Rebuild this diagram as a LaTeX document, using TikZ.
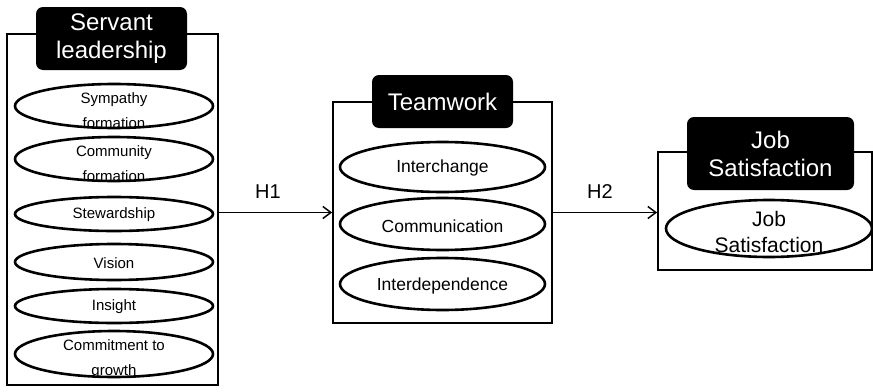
\documentclass[tikz,border=0pt]{standalone}
\usepackage{fontspec}
\setmainfont{Liberation Sans}
\usetikzlibrary{shapes.geometric,arrows.meta}
\begin{document}
\begin{tikzpicture}[x=1pt,y=-1pt,
  frame/.style={draw, line width=1.8pt, inner sep=0pt},
  titlebox/.style={fill=black, rounded corners=7pt, text=white, align=center,
    inner sep=0pt, font=\fontsize{24}{28}\selectfont},
  oval/.style={draw, ellipse, line width=2.6pt, inner sep=0pt},
  otext/.style={align=center, inner sep=0pt, font=\fontsize{15}{25}\selectfont},
  mtext/.style={align=center, inner sep=0pt, font=\fontsize{17.5}{25}\selectfont},
  jtext/.style={align=center, inner sep=0pt, font=\fontsize{21}{26}\selectfont},
  hyp/.style={font=\fontsize{20}{24}\selectfont, inner sep=0pt},
  arrow/.style={line width=1.5pt, -{Straight Barb[length=8pt,width=12pt,line width=1.5pt]}}]
\useasboundingbox (0,0) rectangle (873,391);
\fill[white] (0,0) rectangle (873,391);

% Servant leadership group
\node[frame, minimum width=211pt, minimum height=351pt] (sl) at (112.5,209.5) {};
\node[titlebox, minimum width=151pt, minimum height=63pt] (slt) at (111.5,38.5) {Servant\\leadership};
\tikzset{lov/.style={oval, minimum width=198pt}}
\node[lov, minimum height=44pt] (s1) at (114,106) {};
\node[otext] (s1t) at (114,111) {Sympathy\\formation};
\node[lov, minimum height=44pt] (s2) at (114,159) {};
\node[otext] (s2t) at (114,164) {Community\\formation};
\node[lov, minimum height=34pt] (s3) at (114,214) {};
\node[otext] (s3t) at (114,215) {Stewardship};
\node[lov, minimum height=36pt] (s4) at (114,262) {};
\node[otext] (s4t) at (114,263) {Vision};
\node[lov, minimum height=34pt] (s5) at (114,306) {};
\node[otext] (s5t) at (114,307) {Insight};
\node[lov, minimum height=46pt] (s6) at (114,354) {};
\node[otext] (s6t) at (114,359) {Commitment to\\growth};

% Teamwork group
\node[frame, minimum width=219pt, minimum height=221pt] (tw) at (442.5,212.5) {};
\node[titlebox, minimum width=141pt, minimum height=53pt] (twt) at (442.5,101.5) {Teamwork};
\tikzset{mov/.style={oval, minimum width=205pt}}
\node[mov, minimum height=50pt] (t1) at (442.5,167) {};
\node[mtext] (t1t) at (442.5,168) {Interchange};
\node[mov, minimum height=52pt] (t2) at (442.5,224) {};
\node[mtext] (t2t) at (442.5,226) {Communication};
\node[mov, minimum height=52pt] (t3) at (442.5,284) {};
\node[mtext] (t3t) at (442.5,286) {Interdependence};

% Job satisfaction group
\node[frame, minimum width=214pt, minimum height=118pt] (js) at (765,211) {};
\node[titlebox, minimum width=167pt, minimum height=73pt] (jst) at (770.5,153.5) {Job\\Satisfaction};
\node[oval, minimum width=206pt, minimum height=57pt] (j1) at (769,228.5) {};
\node[jtext] (j1t) at (769,232) {Job\\Satisfaction};

% Hypotheses
\draw[arrow] (sl.east |- tw.west) -- (tw.west);
\draw[arrow] (tw.east) -- (tw.east -| js.west);
\node[hyp] (h1) at (268,192) {H1};
\node[hyp] (h2) at (600,192) {H2};
\end{tikzpicture}
\end{document}
